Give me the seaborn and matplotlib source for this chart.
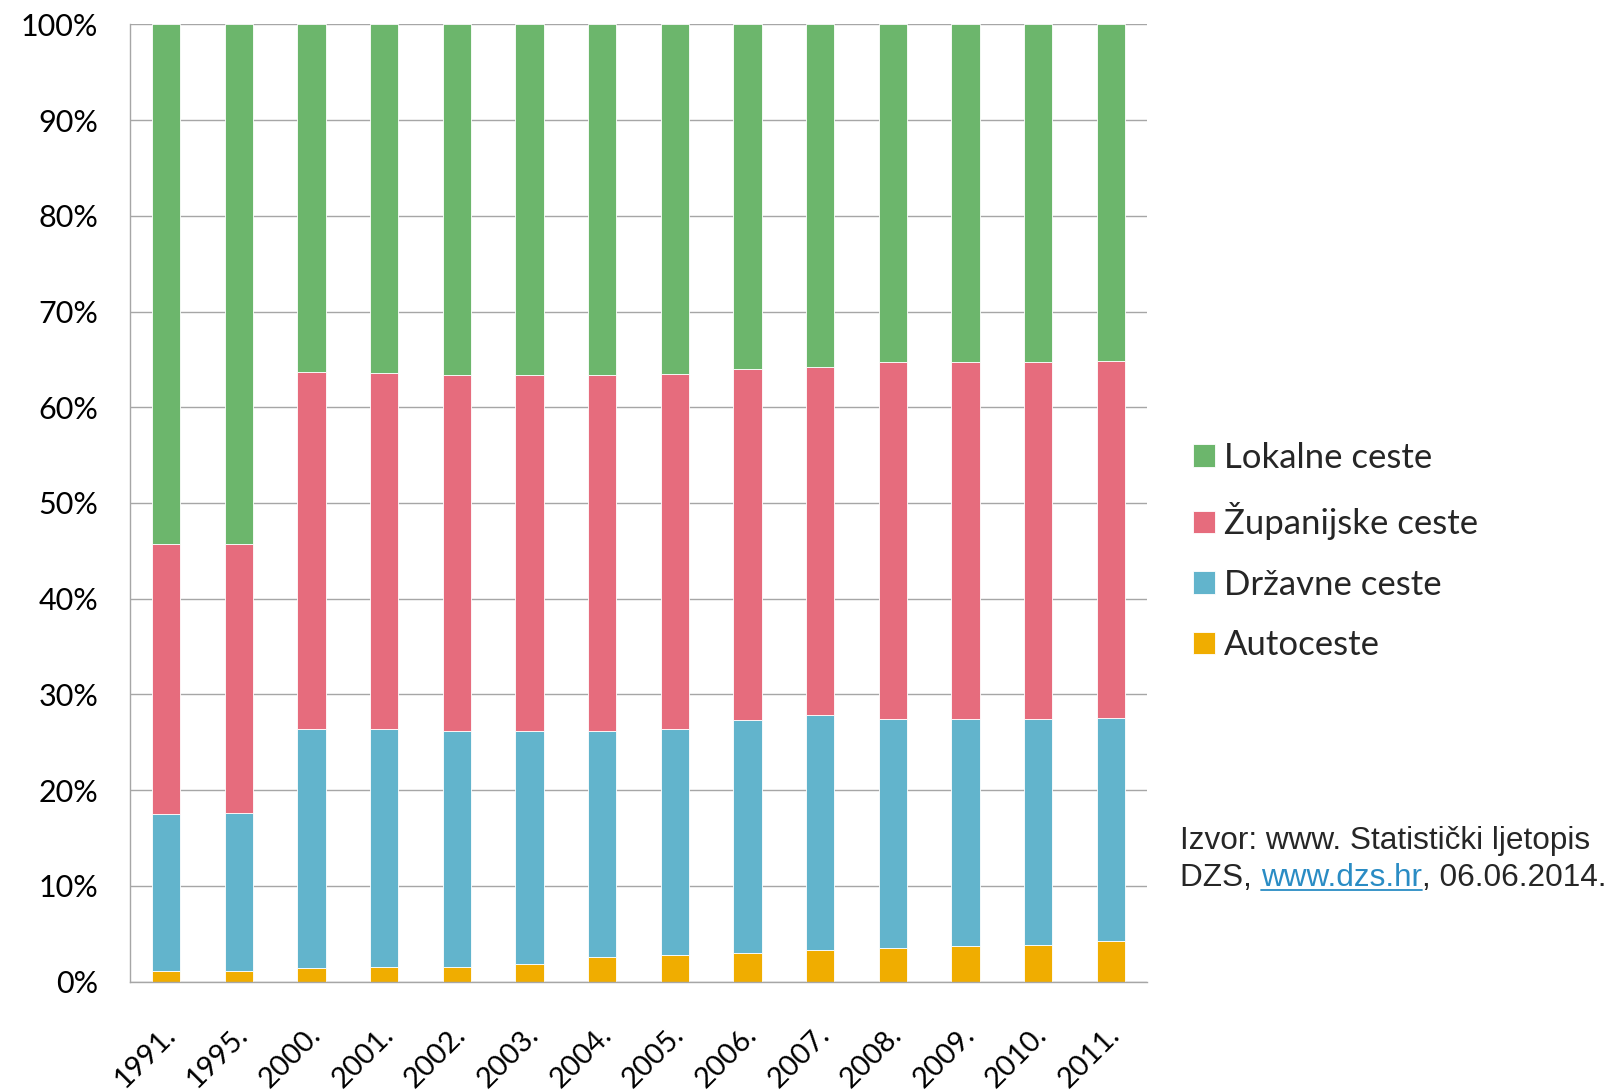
import numpy as np
import pandas as pd
import matplotlib.pyplot as plt
import matplotlib.transforms as mtransforms
from matplotlib.lines import Line2D
import seaborn as sns

# udio vrste cesta u ukupnoj duljini (%)
godine = ['1991.', '1995.', '2000.', '2001.', '2002.', '2003.', '2004.',
          '2005.', '2006.', '2007.', '2008.', '2009.', '2010.', '2011.']
autoceste = [1.1, 1.1, 1.4, 1.5, 1.5, 1.9, 2.6, 2.75, 3.0, 3.3, 3.55, 3.7, 3.8, 4.2]
drzavne = [16.4, 16.5, 25.0, 24.9, 24.65, 24.25, 23.55, 23.65, 24.3, 24.6, 23.85, 23.7, 23.6, 23.3]
zupanijske = [28.2, 28.15, 37.3, 37.15, 37.2, 37.2, 37.2, 37.05, 36.65, 36.35, 37.3, 37.35, 37.3, 37.3]
lokalne = [54.3, 54.25, 36.3, 36.45, 36.65, 36.65, 36.65, 36.55, 36.05, 35.75, 35.3, 35.25, 35.3, 35.2]

serije = ['Autoceste', 'Državne ceste', 'Županijske ceste', 'Lokalne ceste']
boje = ['#F0AD00', '#62B4CC', '#E66C7D', '#6CB66C']

df = pd.DataFrame({'godina': godine, 'Autoceste': autoceste, 'Državne ceste': drzavne,
                   'Županijske ceste': zupanijske, 'Lokalne ceste': lokalne})

sns.set_style('white')
plt.rcParams['font.family'] = ['Lato', 'DejaVu Sans']

W, H = 1612, 1092
fig = plt.figure(figsize=(W / 100, H / 100), dpi=100)
ax = fig.add_axes([130 / W, 1 - 981.7 / H, (1147 - 130) / W, (981.7 - 24.3) / H])

grey = '#A6A6A6'
bottom = np.zeros(len(godine))
for name, col in zip(serije, boje):
    sns.barplot(data=df, x='godina', y=name, color=col, saturation=1, bottom=bottom,
                width=0.39, edgecolor='white', linewidth=0.6, label=name, ax=ax)
    bottom = bottom + df[name].to_numpy()

ax.set_xlim(-0.5, len(godine) - 0.5)
ax.set_ylim(0, 100)
ax.set_xlabel('')
ax.set_ylabel('')
ax.set_yticks(range(0, 101, 10))
ax.set_yticklabels([f'{v}%' for v in range(0, 101, 10)])
ax.yaxis.grid(True, color=grey, linewidth=1.0)
ax.set_axisbelow(True)
for s in ['top', 'right']:
    ax.spines[s].set_visible(False)
for s in ['left', 'bottom']:
    ax.spines[s].set_color(grey)
    ax.spines[s].set_linewidth(1.0)

ax.tick_params(axis='y', length=8, color=grey, width=1.0, pad=15, labelsize=22, labelcolor='black')
ax.set_xticks(np.arange(-0.5, len(godine), 1), minor=True)
ax.tick_params(axis='x', which='major', length=0, pad=35, labelsize=21, labelcolor='black')
ax.tick_params(axis='x', which='minor', length=9, color=grey, width=1.0)
shift = mtransforms.ScaledTranslation(5 / 100, 0, fig.dpi_scale_trans)
for lbl in ax.get_xticklabels():
    lbl.set_rotation(45)
    lbl.set_ha('right')
    lbl.set_va('center')
    lbl.set_rotation_mode('anchor')
    lbl.set_transform(lbl.get_transform() + shift)

handles, labels = ax.get_legend_handles_labels()
ax.legend(handles[::-1], labels[::-1], loc='center left',
          bbox_to_anchor=(1193 / W, 1 - 551.6 / H), bbox_transform=fig.transFigure,
          frameon=False, fontsize=25, handlelength=0.62, handleheight=0.62,
          handletextpad=0.28, labelspacing=0.82, borderpad=0, borderaxespad=0)

# izvor
src_font = dict(family=['Liberation Sans', 'DejaVu Sans'], fontsize=22.7)
fig.text(1180 / W, 1 - 849 / H, 'Izvor: www. Statistički ljetopis', va='baseline', **src_font)
t1 = fig.text(1180 / W, 1 - 886 / H, 'DZS, ', va='baseline', **src_font)
t2 = ax.annotate('www.dzs.hr', xy=(1, 0), xycoords=t1, va='bottom', ha='left',
                 color='#2A8CC4', **src_font)
t3 = ax.annotate(', 06.06.2014.', xy=(1, 0), xycoords=t2, va='bottom', ha='left', **src_font)
fig.canvas.draw()
bb2 = t2.get_window_extent()
uy = (1 - 886 / H) - 4 / H
fig.add_artist(Line2D([bb2.x0 / W, bb2.x1 / W], [uy, uy], transform=fig.transFigure,
                      color='#2A8CC4', linewidth=1.3))

fig.savefig('out.png', dpi=100)
